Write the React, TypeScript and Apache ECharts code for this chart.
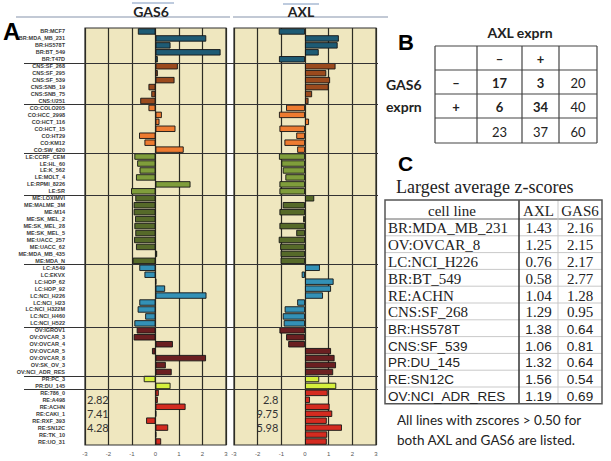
import React, { useEffect, useRef } from "react";
import * as echarts from "echarts";

const cellLines = [
  "BR:MCF7", "BR:MDA_MB_231", "BR:HS578T", "BR:BT_549", "BR:T47D",
  "CNS:SF_268", "CNS:SF_295", "CNS:SF_539", "CNS:SNB_19", "CNS:SNB_75", "CNS:U251",
  "CO:COLO205", "CO:HCC_2998", "CO:HCT_116", "CO:HCT_15", "CO:HT29", "CO:KM12", "CO:SW_620",
  "LE:CCRF_CEM", "LE:HL_60", "LE:K_562", "LE:MOLT_4", "LE:RPMI_8226", "LE:SR",
  "ME:LOXIMVI", "ME:MALME_3M", "ME:M14", "ME:SK_MEL_2", "ME:SK_MEL_28", "ME:SK_MEL_5",
  "ME:UACC_257", "ME:UACC_62", "ME:MDA_MB_435", "ME:MDA_N",
  "LC:A549", "LC:EKVX", "LC:HOP_62", "LC:HOP_92", "LC:NCI_H226", "LC:NCI_H23",
  "LC:NCI_H322M", "LC:NCI_H460", "LC:NCI_H522",
  "OV:IGROV1", "OV:OVCAR_3", "OV:OVCAR_4", "OV:OVCAR_5", "OV:OVCAR_8", "OV:SK_OV_3", "OV:NCI_ADR_RES",
  "PR:PC_3", "PR:DU_145",
  "RE:786_0", "RE:A498", "RE:ACHN", "RE:CAKI_1", "RE:RXF_393", "RE:SN12C", "RE:TK_10", "RE:UO_31",
];

const gas6Z = [
  -0.75, 2.16, 0.64, 2.77, 0.1,
  0.95, 0.1, 0.81, -0.3, -0.18, -0.65,
  -0.3, 0.27, 0.17, 0.85, -0.7, -0.47, 1.2,
  -0.9, -0.78, -0.68, -0.83, 1.49, -1.04,
  -0.86, -0.93, -0.93, -0.87, -0.9, -0.86, -0.91, -0.83, 0.07, -0.97,
  -0.69, -0.47, 0.03, 0.41, 2.17, -0.69, -0.76, -0.44, -0.9,
  -0.8, -0.93, 0.74, -0.15, 2.15, 0.44, 0.69,
  -0.5, 0.64,
  0.14, 0.1, 1.28, 0.03, -0.4, 0.54, 0.03, 0.24,
];

const axlZ = [
  -1.11, 1.43, 1.38, 0.58, -1.1,
  1.29, 0.9, 1.06, 1.0, 0.3, 0.15,
  -0.8, -1.1, 0.17, -1.08, -0.37, -0.87, -0.33,
  -1.1, -1.0, -0.94, -0.83, -1.08, -1.08,
  0.39, -0.94, -1.08, -0.08, -1.08, -0.37, -1.11, -1.05, -1.03, -1.03,
  0.63, -0.14, 1.21, 1.1, 0.76, -0.33, -0.86, -0.94, -0.9,
  -1.08, -0.8, -0.71, 1.1, 1.25, 1.31, 1.19,
  0.6, 1.32,
  0.96, 0.21, 1.04, 1.15, 0.92, 1.56, 0.94, 0.92,
];

const tissueColors: Record<string, string> = {
  BR: "#1e5b74",
  CNS: "#9b4a1d",
  CO: "#ee7b30",
  LE: "#7f9d3b",
  ME: "#566a29",
  LC: "#3391b6",
  OV: "#6b1f21",
  PR: "#d5ef3d",
  RE: "#d42b20",
};

const panelTitles = ["GAS6", "AXL"];
const gas6Notes = ["2.82", "7.41", "4.28"];
const axlNotes = ["2.8", "9.75", "5.98"];
const noteRows = ["RE:A498", "RE:CAKI_1", "RE:SN12C"];

const contingencyTitle = "AXL exprn";
const contingencyRowTitle = ["GAS6", "exprn"];
const contingencyCells = [
  ["", "–", "+", ""],
  ["–", "17", "3", "20"],
  ["+", "6", "34", "40"],
  ["", "23", "37", "60"],
];

const zTitle = "Largest average z-scores";
const zHeader = ["cell line", "AXL", "GAS6"];
const zLines = [
  "BR:MDA_MB_231", "OV:OVCAR_8", "LC:NCI_H226", "BR:BT_549", "RE:ACHN", "CNS:SF_268",
  "BR:HS578T", "CNS:SF_539", "PR:DU_145", "RE:SN12C", "OV:NCI_ADR_RES",
];
const zAxl = ["1.43", "1.25", "0.76", "0.58", "1.04", "1.29", "1.38", "1.06", "1.32", "1.56", "1.19"];
const zGas6 = ["2.16", "2.15", "2.17", "2.77", "1.28", "0.95", "0.64", "0.81", "0.64", "0.54", "0.69"];
const footnote = ["All lines with zscores > 0.50 for", "both AXL and GAS6 are listed."];

const SANS = "Lato, 'Liberation Sans', sans-serif";
const ARIAL = "'Liberation Sans', Arial, sans-serif";
const SERIF = "'Liberation Serif', 'Times New Roman', serif";

function txt(text: string, x: number, y: number, opts: any = {}) {
  const align = opts.align || "left";
  const v = opts.v || "middle";
  return {
    type: "text",
    silent: true,
    z: 100,
    style: {
      text,
      x,
      y,
      fill: opts.fill || "#222",
      fontSize: opts.size || 12,
      fontFamily: opts.family || SANS,
      fontWeight: opts.weight || "normal",
      align,
      verticalAlign: v,
      textAlign: align,
      textVerticalAlign: v,
    },
  };
}

function ln(x1: number, y1: number, x2: number, y2: number, stroke: string, w = 1) {
  return {
    type: "line",
    silent: true,
    z: 90,
    shape: { x1, y1, x2, y2 },
    style: { stroke, lineWidth: w },
  };
}

export default function App() {
  const ref = useRef<HTMLDivElement>(null);

  useEffect(() => {
    if (!ref.current) return;
    const chart = echarts.init(ref.current, null, { renderer: "svg" });
    const grids = [
      { left: 85, top: 28, width: 141, height: 417 },
      { left: 234, top: 28, width: 142, height: 417 },
    ];
    const option: any = {
      animation: false,
      grid: grids.map((g) => ({
        ...g,
        show: true,
        backgroundColor: "#efe7bf",
        borderColor: "#2e2e2e",
        borderWidth: 1.2,
      })),
      xAxis: grids.map((_, i) => ({
        type: "value",
        gridIndex: i,
        min: -3,
        max: 3,
        interval: 1,
        axisLine: { show: false },
        axisTick: { show: false },
        splitLine: { show: true, lineStyle: { color: "#2c2c24", width: 1.2 } },
        axisLabel: { fontSize: 6, color: "#555", margin: 6, fontFamily: ARIAL },
      })),
      yAxis: grids.map((_, i) => ({
        type: "category",
        gridIndex: i,
        data: cellLines,
        inverse: true,
        axisLine: { show: false },
        axisTick: { show: false },
        splitLine: { show: false },
        axisLabel:
          i === 0
            ? {
                interval: 0,
                fontSize: 5.5,
                fontWeight: "bold",
                color: "#3a3a3a",
                margin: 20,
                fontFamily: ARIAL,
              }
            : { show: false },
      })),
      series: [gas6Z, axlZ].map((vals, i) => ({
        type: "bar",
        xAxisIndex: i,
        yAxisIndex: i,
        barCategoryGap: "8%",
        itemStyle: { borderColor: "#141414", borderWidth: 0.9 },
        data: vals.map((v, k) => ({
          value: v,
          itemStyle: { color: tissueColors[cellLines[k].split(":")[0]] },
        })),
      })),
    };
    chart.setOption(option);

    const g: any[] = [];
    // Panel A header
    g.push(txt("A", 3, 31, { size: 24, weight: "bold", family: ARIAL, fill: "#000" }));
    g.push(ln(16, 17, 230, 17, "#8694ab", 1.2));
    g.push(ln(233, 17, 388, 17, "#8694ab", 1.2));
    g.push(ln(132, 3, 174, 3, "#a9bad3", 1.5));
    g.push(ln(283, 4, 319, 4, "#a9bad3", 1.5));
    g.push(txt(panelTitles[0], 151, 11, { size: 14, weight: "bold", align: "center" }));
    g.push(txt(panelTitles[1], 301, 11, { size: 14, weight: "bold", align: "center" }));

    // group separators
    const yc0 = chart.convertToPixel({ yAxisIndex: 0 }, cellLines[0]) as number;
    const yc1 = chart.convertToPixel({ yAxisIndex: 0 }, cellLines[1]) as number;
    const step = yc1 - yc0;
    for (let i = 1; i < cellLines.length; i++) {
      if (cellLines[i].split(":")[0] !== cellLines[i - 1].split(":")[0]) {
        const yc = chart.convertToPixel({ yAxisIndex: 0 }, cellLines[i]) as number;
        const y = Math.round(yc - step / 2) + 0.5;
        g.push(ln(24, y, 378, y, "#333", 1));
      }
    }
    // notes inside panels
    const gx = (chart.convertToPixel({ xAxisIndex: 0 }, -3) as number) + 2;
    const ax = (chart.convertToPixel({ xAxisIndex: 1 }, -1) as number) - 3;
    noteRows.forEach((r, k) => {
      const y = chart.convertToPixel({ yAxisIndex: 0 }, r) as number;
      g.push(txt(gas6Notes[k], gx, y, { size: 11, fill: "#333" }));
      g.push(txt(axlNotes[k], ax, y, { size: 11, fill: "#333", align: "right" }));
    });

    // Panel B
    g.push(txt("B", 398, 42, { size: 22, weight: "bold", family: ARIAL, fill: "#000" }));
    g.push(txt(contingencyTitle, 520, 32, { size: 14, weight: "bold", align: "center" }));
    g.push(txt(contingencyRowTitle[0], 386, 84, { size: 14, weight: "bold" }));
    g.push(txt(contingencyRowTitle[1], 386, 106, { size: 14, weight: "bold" }));
    const bx = [435, 477, 522, 559, 597];
    const by = [46, 70, 94, 118, 143];
    by.forEach((y) => g.push(ln(bx[0], y, bx[4], y, "#444", 1.2)));
    bx.forEach((x) => g.push(ln(x, by[0], x, by[4], "#444", 1.2)));
    contingencyCells.forEach((row, r) => {
      row.forEach((c, ci) => {
        if (!c) return;
        const bold = r < 3 && ci < 3;
        g.push(
          txt(c, (bx[ci] + bx[ci + 1]) / 2, (by[r] + by[r + 1]) / 2 + 1, {
            size: 13,
            weight: bold ? "bold" : "normal",
            align: "center",
          })
        );
      });
    });

    // Panel C
    g.push(txt("C", 398, 163, { size: 21, weight: "bold", family: ARIAL, fill: "#000" }));
    g.push(txt(zTitle, 396, 187, { size: 18, family: SERIF, fill: "#222" }));
    const cx = [385, 519, 558, 602];
    const top = 200;
    const headH = 19;
    const rowH = 16.8;
    const bottom = top + headH + rowH * zLines.length;
    for (let k = 0; k < zLines.length; k++) {
      const y = top + headH + k * rowH;
      g.push(ln(cx[0], y, cx[3], y, k === 0 ? "#666" : "#c9c9c9", 1));
    }
    g.push(ln(cx[2], top, cx[2], bottom, "#c9c9c9", 1));
    g.push(ln(cx[1], top, cx[1], bottom, "#333", 1.5));
    g.push({
      type: "rect",
      silent: true,
      z: 95,
      shape: { x: cx[0], y: top, width: cx[3] - cx[0], height: bottom - top },
      style: { fill: "none", stroke: "#555", lineWidth: 1.5 },
    });
    g.push(txt(zHeader[0], (cx[0] + cx[1]) / 2, top + headH / 2 + 1, { size: 15, family: SERIF, align: "center" }));
    g.push(txt(zHeader[1], (cx[1] + cx[2]) / 2, top + headH / 2 + 1, { size: 15, family: SERIF, align: "center" }));
    g.push(txt(zHeader[2], (cx[2] + cx[3]) / 2, top + headH / 2 + 1, { size: 15, family: SERIF, align: "center" }));
    zLines.forEach((name, k) => {
      const y = top + headH + k * rowH + rowH / 2 + 1;
      const serif = k < 6;
      const fam = serif ? SERIF : ARIAL;
      const size = serif ? 15 : 13.5;
      g.push(txt(name, cx[0] + 3, y, { size, family: fam }));
      g.push(txt(zAxl[k], (cx[1] + cx[2]) / 2, y, { size, family: fam, align: "center" }));
      g.push(txt(zGas6[k], (cx[2] + cx[3]) / 2, y, { size, family: fam, align: "center" }));
    });
    g.push(txt(footnote[0], 397, 420, { size: 13.5, fill: "#222" }));
    g.push(txt(footnote[1], 397, 440, { size: 13.5, fill: "#222" }));

    chart.setOption({ graphic: g });
    return () => chart.dispose();
  }, []);

  return (
    <div
      ref={ref}
      style={{ position: "fixed", left: 0, top: 0, width: 611, height: 461, background: "#fff" }}
    />
  );
}
